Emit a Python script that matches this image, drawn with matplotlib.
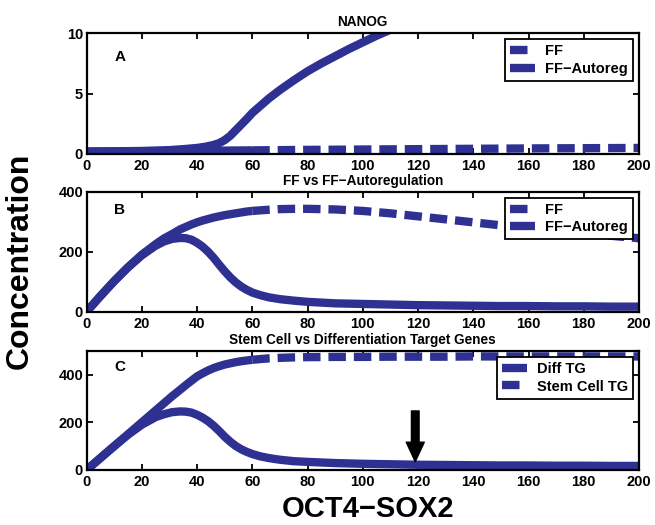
import matplotlib
matplotlib.use("Agg")
import matplotlib.pyplot as plt
import numpy as np


# panel A - NANOG
X_A = [0, 10, 20, 30, 35, 40, 43, 46, 48, 50, 52, 55, 58, 60, 63, 66, 70, 75, 80, 85,
       90, 95, 100, 105, 110]
NANOG_AUTO = [0.2, 0.22, 0.25, 0.32, 0.4, 0.5, 0.6, 0.75, 0.9, 1.15, 1.5, 2.2, 2.9, 3.4,
              4.0, 4.6, 5.3, 6.1, 6.85, 7.5, 8.1, 8.7, 9.25, 9.8, 10.3]
X_A_FF = [0, 20, 40, 60, 80, 100, 120, 140, 160, 180, 200]
NANOG_FF = [0.2, 0.22, 0.26, 0.3, 0.34, 0.37, 0.4, 0.43, 0.46, 0.48, 0.5]

# panels B and C share the x grid
X_BC = [0, 5, 10, 15, 20, 25, 28, 31, 34, 36, 38, 40, 42, 44, 46, 48, 50, 52, 54, 56,
        58, 60, 63, 66, 70, 75, 80, 90, 100, 110, 120, 130, 140, 150, 160, 170, 180,
        190, 200]
B_FF = [0, 52, 102, 148, 190, 225, 244, 259, 275, 283, 291, 298, 304, 309, 314, 318,
        322, 325, 328, 331, 334, 336, 338, 340, 342, 343, 343, 341, 336, 328, 318, 308,
        298, 288, 279, 270, 262, 253, 245]
B_AUTO = [0, 52, 102, 148, 188, 220, 234, 243, 246, 245, 240, 230, 217, 200, 180, 157,
          135, 115, 98, 84, 73, 64, 55, 48, 42, 37, 33, 28, 26, 24, 22, 21, 20, 19, 19,
          18, 18, 17, 17]
C_STEM = [0, 50, 100, 150, 200, 250, 280, 310, 338, 357, 375, 393, 406, 418, 428, 436,
          443, 448, 453, 457, 460, 463, 466, 469, 471, 473, 474, 475, 475, 476, 476, 476,
          477, 477, 477, 477, 477, 477, 477]
C_DIFF = [0, 50, 100, 148, 190, 222, 234, 243, 246, 245, 241, 232, 220, 205, 186, 164,
          140, 119, 101, 87, 76, 67, 57, 50, 43, 37, 34, 29, 26, 24, 22, 21, 20, 19, 19,
          18, 18, 17, 17]

XTICKS = [0, 20, 40, 60, 80, 100, 120, 140, 160, 180, 200]
ARROW_X, ARROW_TOP, ARROW_TIP = 119, 248, 35

BLUE = "#2E3192"
LW = 6
DASH = (0, (2.1, 0.95))
SPLIT = 60  # the dashed series look solid where they are steep

plt.rcParams["font.family"] = ["Liberation Sans", "DejaVu Sans"]
plt.rcParams["font.weight"] = "bold"
plt.rcParams["font.size"] = 10.5


def _dashed(ax, x, y, label):
    x = np.asarray(x, float)
    y = np.asarray(y, float)
    m = x <= SPLIT
    ax.plot(x[m], y[m], color=BLUE, lw=LW, solid_capstyle="butt", solid_joinstyle="round")
    line, = ax.plot(x[x >= SPLIT], y[x >= SPLIT], color=BLUE, lw=LW, linestyle=DASH,
                    dash_capstyle="butt", dash_joinstyle="round", label=label)
    return line


def _solid(ax, x, y, label):
    line, = ax.plot(x, y, color=BLUE, lw=LW, solid_capstyle="butt",
                    solid_joinstyle="round", label=label)
    return line


def _style(ax, ylim, yticks, title, letter, ly):
    ax.set_xlim(0, 200)
    ax.set_ylim(*ylim)
    ax.set_xticks(XTICKS)
    ax.set_yticks(yticks)
    ax.tick_params(direction="in", top=True, right=True, length=4, width=1.3,
                   labelsize=10.5)
    ax.tick_params(axis="x", pad=3.5)
    ax.tick_params(axis="y", pad=2.5)
    for s in ax.spines.values():
        s.set_linewidth(1.6)
    ax.set_title(title, fontsize=9.8, fontweight="bold", pad=5)
    ax.text(0.06, ly, letter, transform=ax.transAxes, fontsize=11, fontweight="bold",
            ha="center", va="center")


def _legend(ax, handles):
    leg = ax.legend(handles=handles, loc="upper right", fontsize=10.5, handlelength=1.7,
                    handletextpad=0.7, borderpad=0.35, labelspacing=0.25,
                    borderaxespad=0.4, fancybox=False, framealpha=1)
    leg.get_frame().set_edgecolor("black")
    leg.get_frame().set_linewidth(1.3)


fig = plt.figure(figsize=(6.55, 5.25), dpi=100)
ax_a = fig.add_axes([0.1321, 0.7067, 0.8435, 0.2299])
ax_b = fig.add_axes([0.1321, 0.4062, 0.8435, 0.2286])
ax_c = fig.add_axes([0.1321, 0.1048, 0.8435, 0.2267])

h1 = _dashed(ax_a, X_A_FF, NANOG_FF, "FF")
h2 = _solid(ax_a, X_A, NANOG_AUTO, "FF\u2212Autoreg")
_style(ax_a, (0, 10), [0, 5, 10], "NANOG", "A", 0.8)
_legend(ax_a, [h1, h2])

h1 = _dashed(ax_b, X_BC, B_FF, "FF")
h2 = _solid(ax_b, X_BC, B_AUTO, "FF\u2212Autoreg")
_style(ax_b, (0, 400), [0, 200, 400], "FF vs FF\u2212Autoregulation", "B", 0.85)
_legend(ax_b, [h1, h2])

h2 = _dashed(ax_c, X_BC, C_STEM, "Stem Cell TG")
h1 = _solid(ax_c, X_BC, C_DIFF, "Diff TG")
_style(ax_c, (0, 500), [0, 200, 400], "Stem Cell vs Differentiation Target Genes", "C", 0.868)
_legend(ax_c, [h1, h2])

ax_c.annotate("", xy=(ARROW_X, ARROW_TIP), xytext=(ARROW_X, ARROW_TOP),
              arrowprops=dict(facecolor="black", edgecolor="black", width=5.5,
                              headwidth=13, headlength=14, shrink=0))

fig.text(368.5 / 655, 1 - 508.7 / 525, "OCT4\u2212SOX2", fontsize=21, fontweight="bold",
         ha="center", va="center")
fig.text(20 / 655, 1 - 261 / 525, "Concentration", fontsize=23, fontweight="bold",
         rotation=90, ha="center", va="center")

fig.savefig("out.png", dpi=100)
